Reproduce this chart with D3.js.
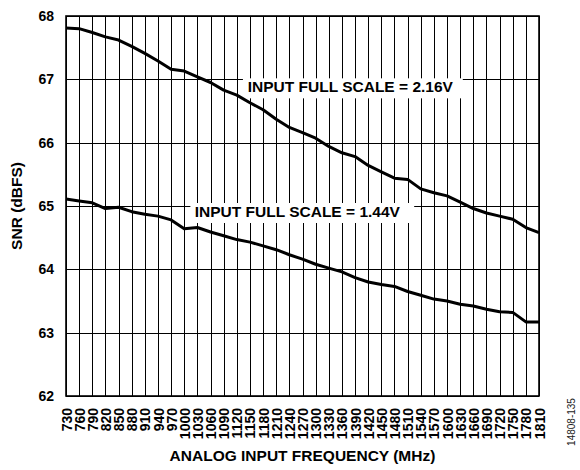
<!DOCTYPE html>
<html>
<head>
<meta charset="utf-8">
<script src="https://cdn.jsdelivr.net/npm/d3@7/dist/d3.min.js"></script>
<style>
  html, body { margin: 0; padding: 0; background: #fff; }
  svg { display: block; }
  text { font-family: Arial, "Liberation Sans", Helvetica, sans-serif; }
</style>
</head>
<body>
<svg id="chart" width="580" height="470"></svg>
<script>
// ---- data ----
const frequencies = [730, 760, 790, 820, 850, 880, 910, 940, 970, 1000, 1030, 1060, 1090, 1120, 1150, 1180, 1210, 1240, 1270, 1300, 1330, 1360, 1390, 1420, 1450, 1480, 1510, 1540, 1570, 1600, 1630, 1660, 1690, 1720, 1750, 1780, 1810];
const snrFullScale216 = [67.81, 67.80, 67.74, 67.67, 67.62, 67.52, 67.41, 67.29, 67.16, 67.13, 67.04, 66.95, 66.83, 66.75, 66.63, 66.52, 66.37, 66.24, 66.16, 66.07, 65.94, 65.84, 65.78, 65.64, 65.54, 65.44, 65.42, 65.27, 65.21, 65.16, 65.06, 64.96, 64.89, 64.84, 64.79, 64.66, 64.58];
const snrFullScale144 = [65.11, 65.08, 65.05, 64.96, 64.98, 64.91, 64.87, 64.84, 64.78, 64.64, 64.66, 64.59, 64.53, 64.47, 64.43, 64.37, 64.31, 64.23, 64.16, 64.08, 64.02, 63.96, 63.87, 63.80, 63.76, 63.73, 63.65, 63.59, 63.53, 63.50, 63.45, 63.42, 63.37, 63.33, 63.32, 63.17, 63.17];
const yTicks = [62, 63, 64, 65, 66, 67, 68];
const seriesLabels = ["INPUT FULL SCALE = 2.16V", "INPUT FULL SCALE = 1.44V"];
const xTitle = "ANALOG INPUT FREQUENCY (MHz)";
const yTitle = "SNR (dBFS)";
const figureId = "14808-135";

// ---- layout ----
const W = 580, H = 470;
const m = { left: 66, top: 16, right: 41, bottom: 74 };
const iw = W - m.left - m.right, ih = H - m.top - m.bottom;

const svg = d3.select("#chart");
const g = svg.append("g").attr("transform", `translate(${m.left},${m.top})`);

const x = d3.scaleLinear().domain([730, 1810]).range([0, iw]);
const y = d3.scaleLinear().domain([62, 68]).range([ih, 0]);

// grid
g.append("g").selectAll("line").data(frequencies).join("line")
  .attr("x1", d => Math.round(x(d)) + 0.5).attr("x2", d => Math.round(x(d)) + 0.5)
  .attr("y1", 0).attr("y2", ih)
  .attr("stroke", "#000").attr("stroke-width", 1);
g.append("g").selectAll("line").data(yTicks).join("line")
  .attr("x1", 0).attr("x2", iw)
  .attr("y1", d => Math.round(y(d)) + 0.5).attr("y2", d => Math.round(y(d)) + 0.5)
  .attr("stroke", "#000").attr("stroke-width", 1);

// frame
g.append("rect").attr("x", 0).attr("y", 0).attr("width", iw).attr("height", ih)
  .attr("fill", "none").attr("stroke", "#000").attr("stroke-width", 1.6);

// label boxes
const labelSpecs = [
  { text: seriesLabels[0], fx: 1145, v: 67, bx0: 1134, bx1: 1636, dy0: -1, dy1: 19, base: 13 },
  { text: seriesLabels[1], fx: 1024, v: 65, bx0: 1014, bx1: 1525, dy0: -3, dy1: 17, base: 11 }
];
labelSpecs.forEach(s => {
  g.append("rect")
    .attr("x", x(s.bx0)).attr("width", x(s.bx1) - x(s.bx0))
    .attr("y", y(s.v) + s.dy0).attr("height", s.dy1 - s.dy0)
    .attr("fill", "#fff");
  g.append("text")
    .attr("x", x(s.fx)).attr("y", y(s.v) + s.base)
    .attr("font-size", "15.5px").attr("font-weight", "bold").attr("fill", "#000")
    .text(s.text);
});

// lines
const line = d3.line().x((d, i) => x(frequencies[i])).y(d => y(d));
[snrFullScale216, snrFullScale144].forEach(vals => {
  g.append("path").datum(vals)
    .attr("d", line)
    .attr("fill", "none").attr("stroke", "#000").attr("stroke-width", 3)
    .attr("stroke-linejoin", "round");
});

// axes
const yAxis = d3.axisLeft(y).tickValues(yTicks).tickSize(0).tickPadding(12).tickFormat(d3.format("d"));
const ya = g.append("g").call(yAxis);
ya.select(".domain").remove();
ya.selectAll("text").attr("font-size", "14px").attr("font-weight", "bold").attr("fill", "#000")
  .attr("font-family", "Arial, 'Liberation Sans', sans-serif");

const xAxis = d3.axisBottom(x).tickValues(frequencies).tickSize(0).tickFormat(d3.format("d"));
const xa = g.append("g").attr("transform", `translate(0,${ih})`).call(xAxis);
xa.select(".domain").remove();
xa.selectAll("text")
  .attr("font-size", "14px").attr("font-weight", "bold").attr("fill", "#000")
  .attr("font-family", "Arial, 'Liberation Sans', sans-serif")
  .attr("transform", "rotate(-90)")
  .attr("text-anchor", "end")
  .attr("x", -12).attr("y", 0).attr("dy", "0.36em");

// titles
svg.append("text")
  .attr("x", m.left + iw / 2).attr("y", 461)
  .attr("text-anchor", "middle").attr("font-size", "15.5px").attr("font-weight", "bold")
  .text(xTitle);
svg.append("text")
  .attr("transform", `translate(22,${m.top + ih / 2}) rotate(-90)`)
  .attr("text-anchor", "middle").attr("font-size", "15.5px").attr("font-weight", "bold")
  .text(yTitle);
svg.append("text")
  .attr("transform", `translate(575,422) rotate(-90)`)
  .attr("text-anchor", "middle").attr("font-size", "10px").attr("fill", "#222")
  .text(figureId);
</script>
</body>
</html>
